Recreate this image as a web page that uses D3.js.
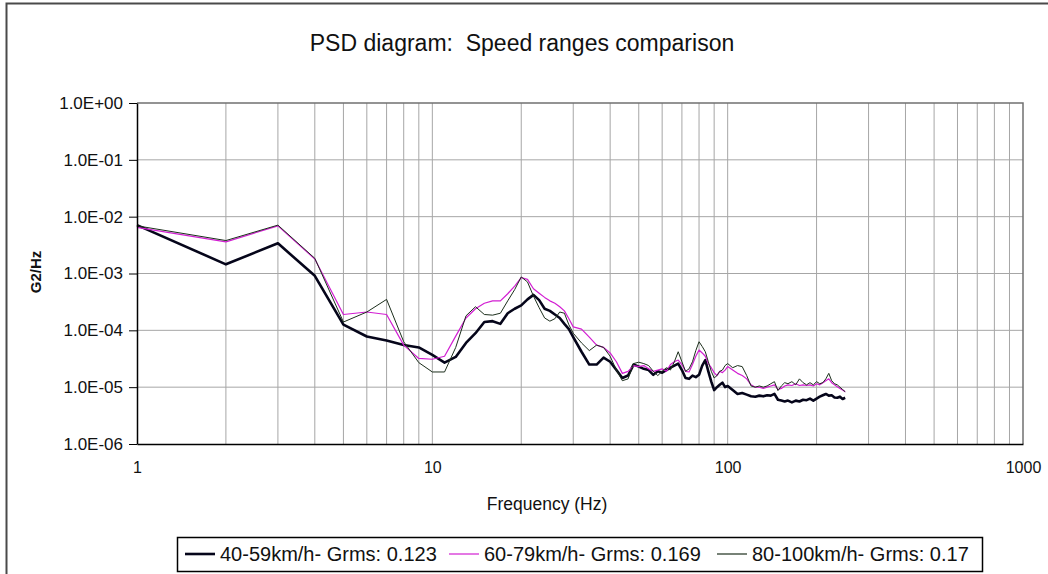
<!DOCTYPE html>
<html>
<head>
<meta charset="utf-8">
<script src="https://cdn.jsdelivr.net/npm/d3@7/dist/d3.min.js"></script>
<style>
  html, body { margin: 0; padding: 0; background: #fff; }
  svg { display: block; font-family: "Liberation Sans", Arial, sans-serif; }
</style>
</head>
<body>
<svg id="chart" width="1048" height="574"></svg>
<script>
// Frequency grid (Hz)
const freqs = [
  1,2,3,4,5,6,7,8,9,10,11,12,13,14,15,16,17,18,19,20,21,22,23,24,25,26,27,28,29,30,
  32,34,36,38,40,42,44,46,48,50,52,54,56,58,60,62,64,66,68,70,72,74,76,78,80,82,84,86,88,90,92,94,96,98,100,
  104,108,112,116,120,124,128,132,136,140,144,148,152,156,160,
  165,170,175,180,185,190,195,200,205,210,215,220,225,230,235,240,245,250
];

// PSD (G2/Hz), 40-59 km/h
const psd40_59 = [
  7.1e-3,1.45e-3,3.4e-3,9.1e-4,1.26e-4,7.8e-5,6.6e-5,5.5e-5,5.0e-5,3.7e-5,2.7e-5,3.4e-5,6.0e-5,8.9e-5,1.4e-4,1.45e-4,1.3e-4,2.0e-4,2.4e-4,2.75e-4,3.5e-4,4.2e-4,3.4e-4,2.4e-4,2.2e-4,1.9e-4,1.65e-4,1.3e-4,1.05e-4,7.6e-5,
  4.2e-5,2.5e-5,2.5e-5,3.3e-5,2.8e-5,2.0e-5,1.45e-5,1.6e-5,2.5e-5,2.3e-5,2.1e-5,2.0e-5,1.65e-5,1.9e-5,1.8e-5,2.0e-5,2.2e-5,2.4e-5,2.6e-5,2.0e-5,1.45e-5,1.4e-5,1.6e-5,1.5e-5,1.65e-5,2.4e-5,3.0e-5,1.9e-5,1.25e-5,8.9e-6,1.0e-5,1.1e-5,1.2e-5,1.0e-5,1.05e-5,
  8.9e-6,7.6e-6,7.9e-6,7.4e-6,6.9e-6,6.8e-6,7.1e-6,6.9e-6,7.2e-6,7.1e-6,7.6e-6,6.0e-6,5.8e-6,5.6e-6,5.8e-6,
  5.4e-6,5.8e-6,5.6e-6,6.0e-6,5.9e-6,6.3e-6,5.8e-6,6.3e-6,6.8e-6,7.2e-6,7.6e-6,7.1e-6,7.2e-6,6.6e-6,6.5e-6,6.8e-6,6.2e-6,6.5e-6
];

// PSD (G2/Hz), 60-79 km/h
const psd60_79 = [
  6.5e-3,3.6e-3,6.9e-3,1.8e-3,1.9e-4,2.1e-4,1.9e-4,5.5e-5,3.2e-5,3.1e-5,3.5e-5,7.9e-5,1.65e-4,2.4e-4,3.0e-4,3.3e-4,3.3e-4,4.4e-4,6.0e-4,8.5e-4,7.9e-4,5.4e-4,4.5e-4,3.8e-4,3.3e-4,3.0e-4,2.6e-4,2.2e-4,1.6e-4,1.15e-4,
  1.05e-4,7.6e-5,5.5e-5,5.0e-5,4.0e-5,2.8e-5,1.75e-5,1.9e-5,2.4e-5,2.3e-5,2.4e-5,2.1e-5,1.9e-5,2.0e-5,2.1e-5,1.9e-5,2.5e-5,2.8e-5,3.0e-5,2.5e-5,1.9e-5,1.85e-5,2.5e-5,3.5e-5,4.5e-5,4.0e-5,3.5e-5,2.6e-5,2.2e-5,1.8e-5,1.6e-5,1.9e-5,1.8e-5,2.0e-5,2.3e-5,
  2.0e-5,1.75e-5,1.6e-5,1.4e-5,1.1e-5,1.0e-5,1.0e-5,9.5e-6,1.0e-5,1.05e-5,1.1e-5,9.1e-6,9.5e-6,1.05e-5,1.1e-5,
  1.07e-5,1.15e-5,1.07e-5,1.1e-5,1.07e-5,1.1e-5,1.05e-5,1.15e-5,1.1e-5,1.2e-5,1.3e-5,1.4e-5,1.2e-5,1.1e-5,1.02e-5,9.5e-6,8.9e-6,8.3e-6
];

// PSD (G2/Hz), 80-100 km/h
const psd80_100 = [
  6.9e-3,3.8e-3,7.1e-3,1.85e-3,1.4e-4,2.1e-4,3.5e-4,6.3e-5,2.7e-5,1.85e-5,1.85e-5,5.0e-5,1.8e-4,2.6e-4,1.9e-4,1.85e-4,2.0e-4,3.3e-4,5.2e-4,8.7e-4,7.1e-4,4.0e-4,2.5e-4,1.65e-4,1.45e-4,1.6e-4,2.1e-4,2.0e-4,1.25e-4,8.9e-5,
  6.0e-5,4.4e-5,5.5e-5,5.0e-5,3.5e-5,2.0e-5,1.3e-5,1.4e-5,2.6e-5,2.75e-5,2.6e-5,2.4e-5,1.9e-5,1.6e-5,1.9e-5,2.2e-5,2.0e-5,2.8e-5,4.2e-5,2.8e-5,1.9e-5,2.1e-5,2.8e-5,4.4e-5,6.3e-5,5.2e-5,4.2e-5,2.8e-5,1.9e-5,1.45e-5,1.6e-5,1.9e-5,2.0e-5,2.4e-5,2.6e-5,
  2.2e-5,2.4e-5,2.3e-5,1.6e-5,1.05e-5,1.0e-5,1.05e-5,1.0e-5,1.05e-5,1.15e-5,1.25e-5,8.7e-6,1.05e-5,1.2e-5,1.15e-5,
  1.25e-5,1.1e-5,1.4e-5,1.2e-5,1.1e-5,1.2e-5,1.1e-5,1.25e-5,1.15e-5,1.2e-5,1.4e-5,1.75e-5,1.3e-5,1.15e-5,1.1e-5,1.0e-5,9.1e-6,8.3e-6
];

const seriesNames = ["40-59km/h- Grms: 0.123", "60-79km/h- Grms: 0.169", "80-100km/h- Grms: 0.17"];
const seriesValues = [psd40_59, psd60_79, psd80_100];
const seriesColors = ["#05051a", "#d21ed2", "#1c2e1c"];
const seriesWidths = [2.6, 1.2, 1];

const yTickValues = [1e-6, 1e-5, 1e-4, 1e-3, 1e-2, 1e-1, 1];
const xTickValues = [1, 10, 100, 1000];

const svg = d3.select("#chart");
const plot = { left: 137, right: 1023, top: 103, bottom: 444 };

const x = d3.scaleLog().domain([1, 1000]).range([plot.left, plot.right]);
const y = d3.scaleLog().domain([1e-6, 1]).range([plot.bottom, plot.top]);

// Outer chart frame
svg.append("rect")
  .attr("x", 6.5).attr("y", 3.5).attr("width", 1100).attr("height", 700)
  .attr("fill", "#fff").attr("stroke", "#4a4a4a").attr("stroke-width", 2);

// Title
svg.append("text")
  .attr("x", 522).attr("y", 51)
  .attr("text-anchor", "middle")
  .style("white-space", "pre")
  .attr("font-size", 23)
  .attr("fill", "#111")
  .text("PSD diagram:  Speed ranges comparison");

// Grid
const grid = svg.append("g");
grid.selectAll("line.vx")
  .data(x.ticks().filter(d => d > 1 && d < 1000))
  .join("line")
  .attr("x1", d => x(d)).attr("x2", d => x(d))
  .attr("y1", plot.top).attr("y2", plot.bottom)
  .attr("stroke", "#a6a6a6").attr("stroke-width", 1);
grid.selectAll("line.hy")
  .data(yTickValues.filter(d => d > 1e-6 && d < 1))
  .join("line")
  .attr("x1", plot.left).attr("x2", plot.right)
  .attr("y1", d => y(d)).attr("y2", d => y(d))
  .attr("stroke", "#a6a6a6").attr("stroke-width", 1);

// Plot frame (top/right)
svg.append("path")
  .attr("d", `M${plot.left},${plot.top}H${plot.right}V${plot.bottom}`)
  .attr("fill", "none").attr("stroke", "#707070").attr("stroke-width", 1.5);

// Series
const line = d3.line().x(d => x(d[0])).y(d => y(d[1]));
seriesValues.forEach((vals, i) => {
  svg.append("path")
    .datum(freqs.map((f, k) => [f, vals[k]]))
    .attr("d", line)
    .attr("fill", "none")
    .attr("stroke", seriesColors[i])
    .attr("stroke-width", seriesWidths[i])
    .attr("stroke-linejoin", "round");
});

// Y axis
const expFmt = d => {
  const e = Math.round(Math.log10(d));
  return "1.0E" + (e < 0 ? "-" : "+") + String(Math.abs(e)).padStart(2, "0");
};
const yAxis = svg.append("g")
  .attr("transform", `translate(${plot.left},0)`)
  .call(d3.axisLeft(y).tickValues(yTickValues).tickFormat(expFmt).tickSize(8).tickSizeOuter(0).tickPadding(6));
yAxis.select(".domain").attr("stroke", "#000").attr("stroke-width", 1.5);
yAxis.selectAll(".tick line").attr("stroke", "#000");
yAxis.selectAll(".tick text").attr("font-size", 17).attr("fill", "#111").attr("font-family", null);

// X axis
const xAxis = svg.append("g")
  .attr("transform", `translate(0,${plot.bottom})`)
  .call(d3.axisBottom(x).tickValues(xTickValues).tickFormat(d3.format("d")).tickSize(0).tickSizeOuter(0).tickPadding(18));
xAxis.select(".domain").attr("stroke", "#000").attr("stroke-width", 1.5);
xAxis.selectAll(".tick text").attr("font-size", 16).attr("fill", "#111").attr("font-family", null);

// Axis titles
svg.append("text")
  .attr("x", 547).attr("y", 510)
  .attr("text-anchor", "middle")
  .attr("font-size", 17.5).attr("fill", "#111")
  .text("Frequency (Hz)");
svg.append("text")
  .attr("transform", "translate(41,272) rotate(-90)")
  .attr("text-anchor", "middle")
  .attr("font-size", 15).attr("font-weight", "bold").attr("fill", "#111")
  .text("G2/Hz");

// Legend
const legend = svg.append("g");
legend.append("rect")
  .attr("x", 177.5).attr("y", 537.5).attr("width", 805).attr("height", 34)
  .attr("fill", "#fff").attr("stroke", "#000").attr("stroke-width", 1.5);
const entryX = [185, 449, 717];
seriesNames.forEach((name, i) => {
  const g = legend.append("g").attr("transform", `translate(${entryX[i]},554)`);
  g.append("line").attr("x1", 0).attr("x2", 30).attr("y1", 0).attr("y2", 0)
    .attr("stroke", seriesColors[i]).attr("stroke-width", seriesWidths[i] === 1 ? 1.2 : seriesWidths[i]);
  g.append("text").attr("x", 35).attr("y", 7)
    .attr("font-size", 20).attr("fill", "#111")
    .text(name);
});
</script>
</body>
</html>
